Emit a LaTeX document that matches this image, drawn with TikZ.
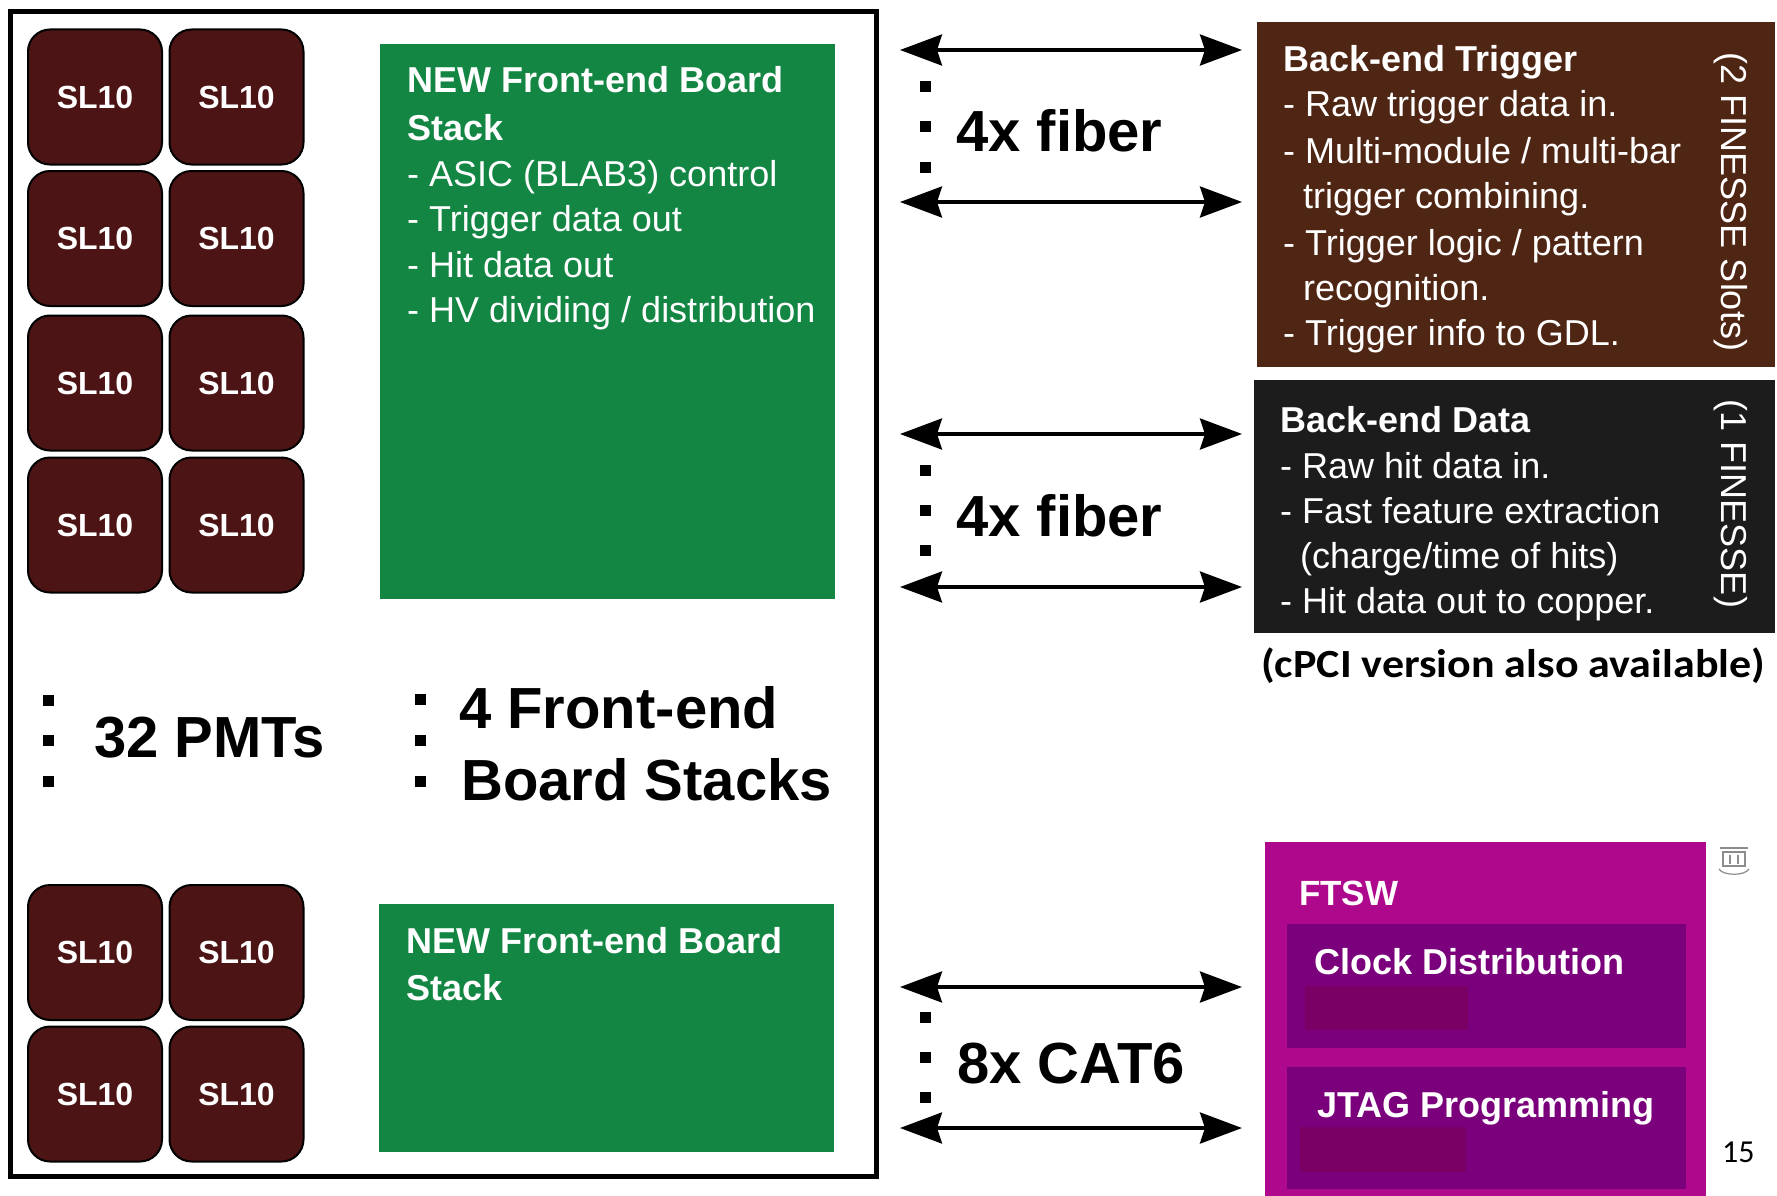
\documentclass[tikz,border=0pt]{standalone}
\usepackage{fontspec}
\setmainfont{Liberation Sans}
\newfontfamily\calibri{Carlito}
\usetikzlibrary{arrows.meta}

\definecolor{slred}{RGB}{76,20,20}
\definecolor{feboard}{RGB}{19,134,67}
\definecolor{betrig}{RGB}{79,37,19}
\definecolor{bedata}{RGB}{28,28,28}
\definecolor{ftswout}{RGB}{174,8,140}
\definecolor{ftswin}{RGB}{123,0,123}
\definecolor{ftswpatch}{RGB}{122,0,102}

\newcommand{\fsz}[1]{\fontsize{#1}{#1}\selectfont}

\begin{document}
\begin{tikzpicture}[x=1pt,y=-1pt,
  pmt/.style={rectangle, rounded corners=22pt, minimum width=134pt, minimum height=135pt,
    fill=slred, draw=black, line width=2pt, text=white, inner sep=0pt,
    font=\fsz{32}\bfseries},
  panel/.style={rectangle, inner sep=0pt, draw=none},
  ln/.style={anchor=base west, inner sep=0pt, text=white, font=\fsz{36}},
  lnb/.style={ln, font=\fsz{36}\bfseries},
  big/.style={anchor=base west, inner sep=0pt, text=black, font=\fsz{58}\bfseries},
  bullet/.style={rectangle, fill=black, minimum size=11pt, inner sep=0pt},
  vlabel/.style={rotate=-90, inner sep=0pt, text=white, font=\fsz{36}},
  biarrow/.style={line width=3.5pt,
    {Stealth[length=42pt,width=31pt,inset=5pt]}-{Stealth[length=42pt,width=31pt,inset=5pt]}}
]
\useasboundingbox (0,0) rectangle (1777,1196);
\fill[white] (0,0) rectangle (1777,1196);

% detector module outline
\draw[line width=5pt] (10,12) rectangle (876,1176);

% photomultiplier tubes
\foreach \r/\y in {1/97,2/238.5,3/383,4/525,5/952.5,6/1094}{
  \node[pmt] (pmt\r a) at (95,\y) {SL10};
  \node[pmt] (pmt\r b) at (236.5,\y) {SL10};
}

% front-end board stacks
\node[panel, fill=feboard, minimum width=455pt, minimum height=555pt] (fe1) at (607.5,321.5) {};
\node[lnb] (fe1t1) at (407,93) {NEW Front-end Board};
\node[lnb] (fe1t2) at (407,140) {Stack};
\node[ln] (fe1l1) at (407,186) {- ASIC (BLAB3) control};
\node[ln] (fe1l2) at (407,231) {- Trigger data out};
\node[ln] (fe1l3) at (407,277) {- Hit data out};
\node[ln] (fe1l4) at (407,322) {- HV dividing / distribution};

\node[panel, fill=feboard, minimum width=455pt, minimum height=248pt] (fe2) at (606.5,1028) {};
\node[lnb] (fe2t1) at (406,953) {NEW Front-end Board};
\node[lnb] (fe2t2) at (406,1000) {Stack};

% counts inside the module
\node[bullet] (pd1) at (48,700) {};
\node[bullet] (pd2) at (48,740) {};
\node[bullet] (pd3) at (48,781) {};
\node[big] (pmts) at (94,757) {32 PMTs};
\node[bullet] (bd1) at (420,699) {};
\node[bullet] (bd2) at (420,740) {};
\node[bullet] (bd3) at (420,781) {};
\node[big] (fes1) at (459,728) {4 Front-end};
\node[big] (fes2) at (461,800) {Board Stacks};

% links
\coordinate (t1l) at (900,50);   \coordinate (t1r) at (1242,50);
\coordinate (t2l) at (900,202);  \coordinate (t2r) at (1242,202);
\coordinate (d1l) at (900,434);  \coordinate (d1r) at (1242,434);
\coordinate (d2l) at (900,587);  \coordinate (d2r) at (1242,587);
\coordinate (c1l) at (900,987);  \coordinate (c1r) at (1242,987);
\coordinate (c2l) at (900,1128); \coordinate (c2r) at (1242,1128);
\draw[biarrow] (t1l) -- (t1r);
\draw[biarrow] (t2l) -- (t2r);
\draw[biarrow] (d1l) -- (d1r);
\draw[biarrow] (d2l) -- (d2r);
\draw[biarrow] (c1l) -- (c1r);
\draw[biarrow] (c2l) -- (c2r);

\node[bullet] (td1) at (925,87) {};
\node[bullet] (td2) at (925,127) {};
\node[bullet] (td3) at (925,167) {};
\node[big] (tlink) at (956,152) {4x fiber};
\node[bullet] (dd1) at (925,470) {};
\node[bullet] (dd2) at (925,510) {};
\node[bullet] (dd3) at (925,550) {};
\node[big] (dlink) at (956,536) {4x fiber};
\node[bullet] (cd1) at (925,1017) {};
\node[bullet] (cd2) at (925,1057) {};
\node[bullet] (cd3) at (925,1097) {};
\node[big] (clink) at (957,1083) {8x CAT6};

% back-end trigger
\node[panel, fill=betrig, minimum width=518pt, minimum height=345pt] (bet) at (1516,194.5) {};
\node[lnb] (bet0) at (1283,72) {Back-end Trigger};
\node[ln] (bet1) at (1283,117) {- Raw trigger data in.};
\node[ln] (bet2) at (1283,163) {- Multi-module / multi-bar};
\node[ln] (bet3) at (1303,208) {trigger combining.};
\node[ln] (bet4) at (1283,255) {- Trigger logic / pattern};
\node[ln] (bet5) at (1303,300) {recognition.};
\node[ln] (bet6) at (1283,345) {- Trigger info to GDL.};
\node[vlabel] (betv) at (1731,202) {(2 FINESSE Slots)};

% back-end data
\node[panel, fill=bedata, minimum width=521pt, minimum height=253pt] (bed) at (1514.5,506.5) {};
\node[lnb] (bed0) at (1280,432) {Back-end Data};
\node[ln] (bed1) at (1280,478) {- Raw hit data in.};
\node[ln] (bed2) at (1280,523) {- Fast feature extraction};
\node[ln] (bed3) at (1300,568) {(charge/time of hits)};
\node[ln] (bed4) at (1280,613) {- Hit data out to copper.};
\node[vlabel] (bedv) at (1731,504) {(1 FINESSE)};
\node[anchor=base west, inner sep=0pt, font=\calibri\fsz{40}\bfseries] (cpci) at (1261,677)
  {\scalebox{1.1}[1]{(cPCI version also available)}};

% timing switch
\node[panel, fill=ftswout, minimum width=441pt, minimum height=354pt] (ftsw) at (1485.5,1019) {};
\node[lnb, font=\fsz{35}\bfseries] (ftswt) at (1299,905) {FTSW};
\node[panel, fill=ftswin, minimum width=399pt, minimum height=124pt] (clk) at (1486.5,986) {};
\fill[ftswpatch] (1305,986) rectangle (1468,1030);
\node[lnb] (clkt) at (1314,974) {Clock Distribution};
\node[panel, fill=ftswin, minimum width=399pt, minimum height=122pt] (jtag) at (1486.5,1128) {};
\fill[ftswpatch] (1300,1127) rectangle (1466,1172);
\node[lnb] (jtagt) at (1317,1117) {JTAG Programming};

% small comment marker
\begin{scope}[draw=black!45, line width=1.2pt]
  \draw (1720,848) -- (1748,848);
  \draw (1723,852) rectangle (1745,866);
  \draw (1730,855) -- (1730,864);
  \draw (1738,855) -- (1738,864);
  \draw (1719,869) .. controls (1723,876) and (1745,876) .. (1749,869);
\end{scope}

% page number
\node[anchor=base west, inner sep=0pt, font=\calibri\fsz{32}] (pageno) at (1722,1162) {15};
\end{tikzpicture}
\end{document}
